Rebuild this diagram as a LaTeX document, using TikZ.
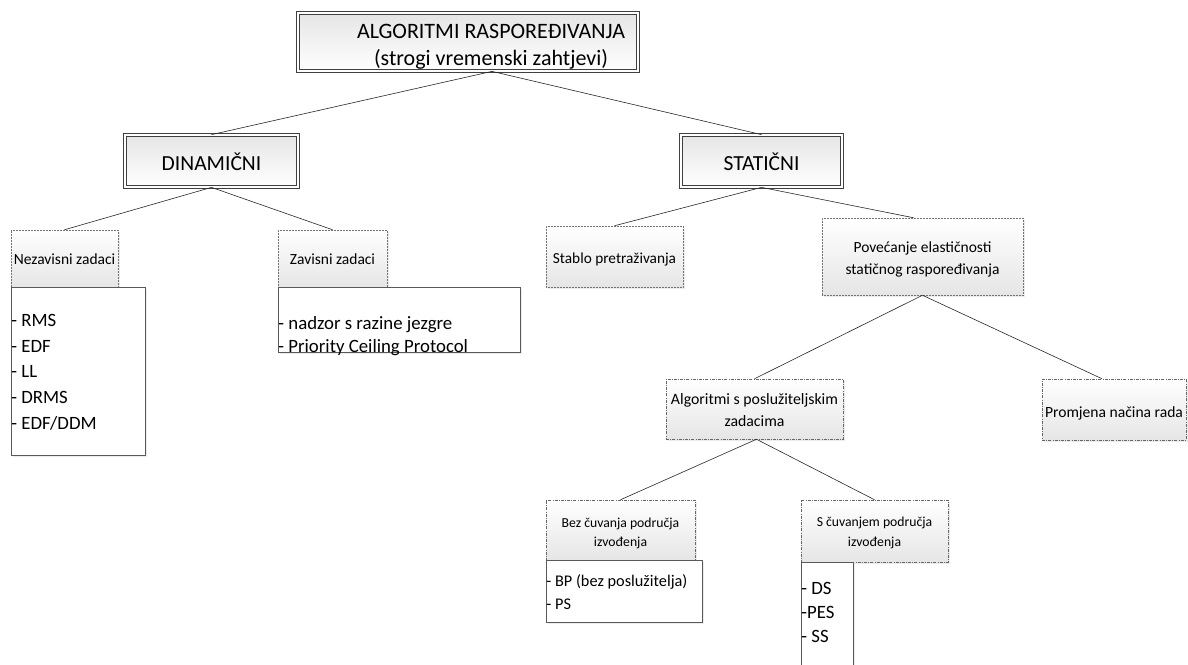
\documentclass[tikz,border=0pt]{standalone}
\usepackage{fontspec}
\setmainfont{Carlito}
\usetikzlibrary{shadows}
\tikzset{
  boxA/.style={inner sep=0pt,
    drop shadow={shadow xshift=2pt, shadow yshift=-2pt, opacity=0.25},
    preaction={top color=black!10, bottom color=white},
    draw=black!75, double=white, double distance=1.6pt, line width=0.75pt},
  boxB/.style={draw=black!55, densely dotted, line width=0.5pt,
    top color=white, bottom color=black!10, inner sep=0pt,
    drop shadow={shadow xshift=1.5pt, shadow yshift=-1.5pt, opacity=0.15}},
  boxC/.style={draw=black!60, dash pattern=on 3pt off 1.3pt on 0.7pt off 1.3pt, line width=0.5pt,
    top color=white, bottom color=black!10, inner sep=0pt,
    drop shadow={shadow xshift=1.5pt, shadow yshift=-1.5pt, opacity=0.15}},
  listbox/.style={draw=black!65, fill=white, line width=0.6pt, inner sep=0pt,
    drop shadow={shadow xshift=1.5pt, shadow yshift=-1.5pt, opacity=0.15}},
  txt/.style={align=center, inner sep=0pt},
  listtext/.style={anchor=west, align=left, inner sep=0pt},
  conn/.style={draw=black!85, line width=0.6pt},
}
\begin{document}
\begin{tikzpicture}[x=1pt,y=-1pt]
\useasboundingbox (0,0) rectangle (1188,664);
% level 0
\node[boxA, minimum width=340pt, minimum height=58pt] (root) at (468,42) {};
\node[txt, font=\fontsize{22}{26.5}\selectfont] (roottext) at (491,47)
  {ALGORITMI RASPOREĐIVANJA\\(strogi vremenski zahtjevi)};
% level 1
\node[boxA, minimum width=173pt, minimum height=52pt] (din) at (211.5,161) {};
\node[txt, font=\fontsize{21.5}{24}\selectfont] (dintext) at (211.5,162) {DINAMIČNI};
\node[boxA, minimum width=161pt, minimum height=52pt] (stat) at (761.5,161) {};
\node[txt, font=\fontsize{21.5}{24}\selectfont] (stattext) at (761.5,162) {STATIČNI};
% level 2
\node[boxB, minimum width=107pt, minimum height=57pt] (nez) at (64.5,258.5) {};
\node[txt, font=\fontsize{15.5}{18}\selectfont] (neztext) at (64.5,259) {Nezavisni zadaci};
\node[boxB, minimum width=109pt, minimum height=57pt] (zav) at (332.5,258.5) {};
\node[txt, font=\fontsize{15.5}{18}\selectfont] (zavtext) at (332.5,259) {Zavisni zadaci};
\node[boxB, minimum width=137pt, minimum height=61pt] (stablo) at (614.5,256.5) {};
\node[txt, font=\fontsize{15.3}{18}\selectfont] (stablotext) at (614.5,259.5) {Stablo pretraživanja};
\node[boxB, minimum width=201pt, minimum height=77pt] (pov) at (922.5,256.5) {};
\node[txt, font=\fontsize{15.5}{22}\selectfont] (povtext) at (922.5,259) {Povećanje elastičnosti\\statičnog raspoređivanja};
% lists level 2
\node[listbox, minimum width=134pt, minimum height=168pt] (nezlist) at (78,371) {};
\node[listtext, font=\fontsize{18.8}{25.7}\selectfont] (nezlisttext) at ([xshift=0.5pt]nezlist.west |- 0,372)
  {- RMS\\- EDF\\- LL\\- DRMS\\- EDF/DDM};
\node[listbox, minimum width=242pt, minimum height=65pt] (zavlist) at (399,319.5) {};
\node[listtext, font=\fontsize{18.8}{22.5}\selectfont] (zavlisttext) at ([xshift=0.5pt]zavlist.west |- 0,336)
  {- nadzor s razine jezgre\\- Priority Ceiling Protocol};
% level 3
\node[boxC, minimum width=177pt, minimum height=60pt] (alg) at (754.5,409) {};
\node[txt, font=\fontsize{15.8}{21.5}\selectfont] (algtext) at (754.5,410) {Algoritmi s poslužiteljskim\\zadacima};
\node[boxC, minimum width=144pt, minimum height=61pt] (prom) at (1114,409.5) {};
\node[txt, font=\fontsize{15.6}{18}\selectfont] (promtext) at (1114,413) {Promjena načina rada};
% level 4
\node[boxC, minimum width=149pt, minimum height=60pt] (bez) at (620.5,530) {};
\node[txt, font=\fontsize{13.7}{19.5}\selectfont] (beztext) at (620.5,533.5) {Bez čuvanja područja\\izvođenja};
\node[boxC, minimum width=147pt, minimum height=62pt] (scuv) at (874.5,531) {};
\node[txt, font=\fontsize{13.7}{19.5}\selectfont] (scuvtext) at (874.5,533) {S čuvanjem područja\\izvođenja};
\node[listbox, minimum width=156pt, minimum height=62pt] (bezlist) at (624,591) {};
\node[listtext, font=\fontsize{16.3}{23}\selectfont] (bezlisttext) at ([xshift=0.5pt]bezlist.west |- 0,592)
  {- BP (bez poslužitelja)\\- PS};
\node[listbox, minimum width=52pt, minimum height=110pt] (slist) at (827,617) {};
\node[listtext, font=\fontsize{18.8}{24}\selectfont] (slisttext) at ([xshift=0.5pt]slist.west |- 0,612)
  {- DS\\-PES\\- SS};
% connectors
\draw[conn] ([xshift=24pt]root.south) -- (din.north);
\draw[conn] ([xshift=24pt]root.south) -- (stat.north);
\draw[conn] (din.south) -- (nez.north);
\draw[conn] (din.south) -- (zav.north);
\draw[conn] (stat.south) -- (stablo.north);
\draw[conn] (stat.south) -- ([xshift=-9pt]pov.north);
\draw[conn] (pov.south) -- (alg.north);
\draw[conn] (pov.south) -- ([xshift=-12pt]prom.north);
\draw[conn] ([xshift=2pt]alg.south) -- (bez.north);
\draw[conn] ([xshift=2pt]alg.south) -- (scuv.north);
\end{tikzpicture}
\end{document}
